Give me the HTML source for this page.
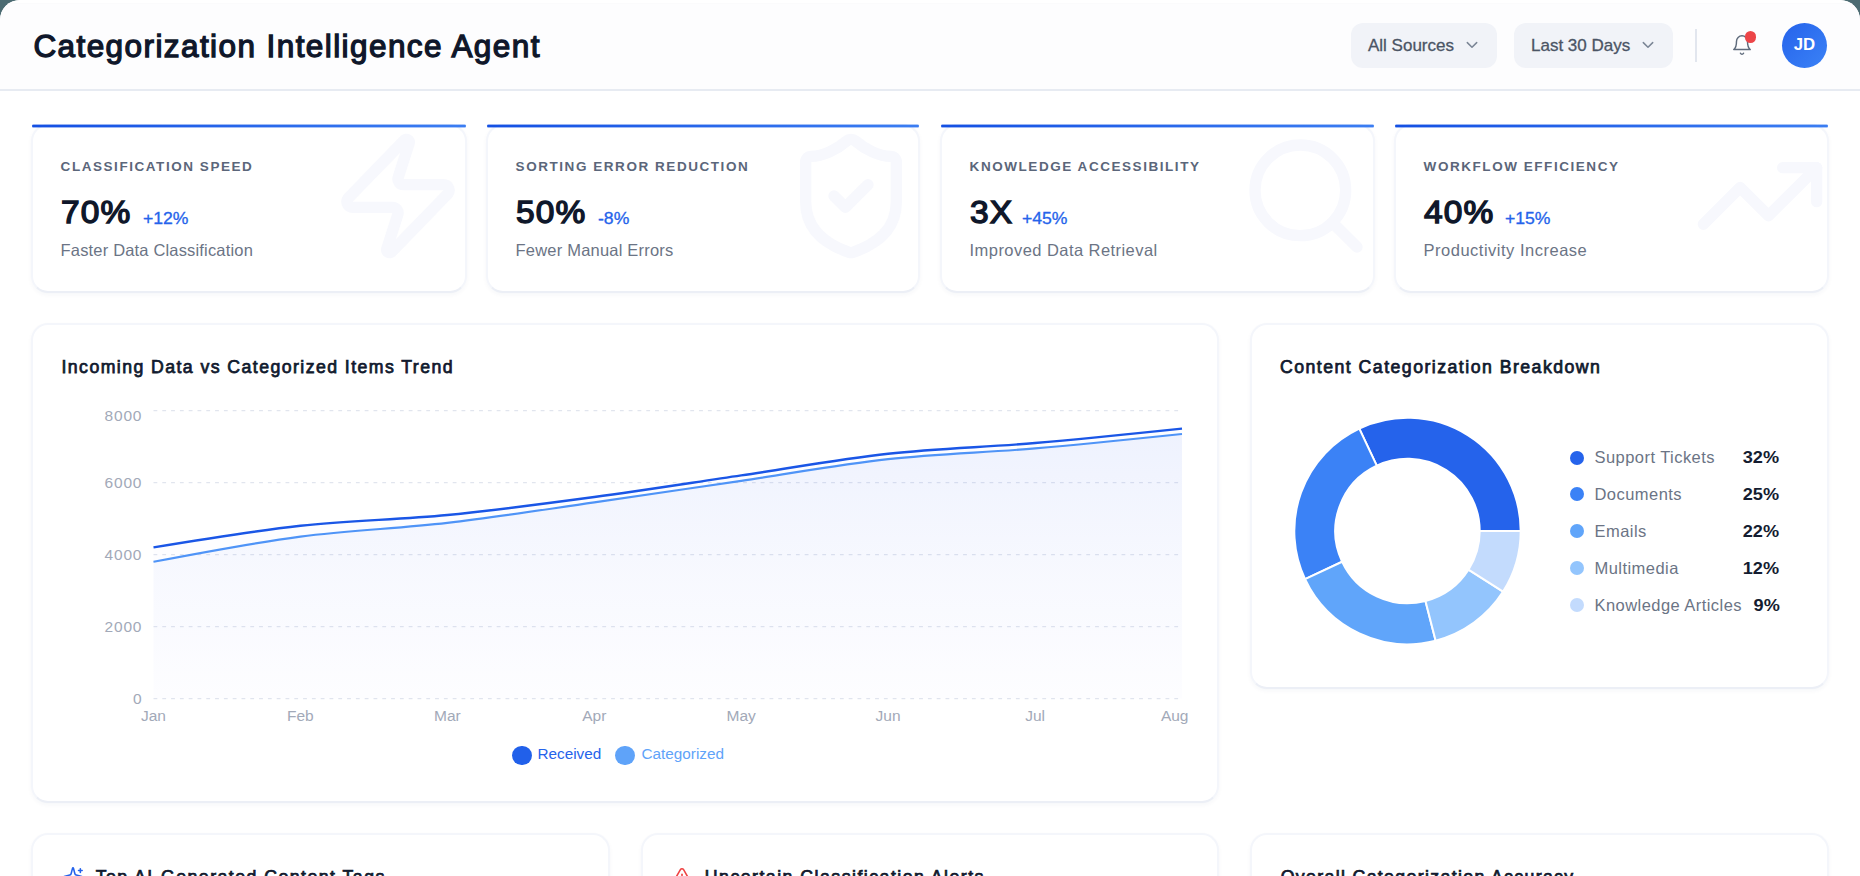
<!DOCTYPE html>
<html>
<head>
<meta charset="utf-8">
<title>Categorization Intelligence Agent</title>
<style>
*{box-sizing:border-box;margin:0;padding:0}
html,body{width:1860px;height:876px;overflow:hidden;background:#4c6b72;font-family:"Liberation Sans",sans-serif;}
#app{position:absolute;left:0;top:0;width:1860px;height:900px;background:#fff;border-radius:20px 20px 0 0;overflow:hidden;}
.abs{position:absolute;white-space:nowrap;line-height:1}
#hdr{position:absolute;left:0;top:0;width:1860px;height:91px;background:linear-gradient(#fff 0,#fff 3px,#fbfbfc 3px,#fbfbfc 4px,#fdfdfe 4px,#fdfdfe 100%);border-bottom:2px solid #e7ebf2;}
#title{left:33.4px;top:31.1px;font-size:31.5px;font-weight:400;color:#0f172a;-webkit-text-stroke:1.3px #0f172a;letter-spacing:1.42px}
.pill{position:absolute;top:23px;height:45px;border-radius:12px;background:#f1f3f8;}
.pill span{position:absolute;top:13.7px;font-size:17px;color:#4b5565;-webkit-text-stroke:0.3px #4b5565;white-space:nowrap;line-height:1}
.pill svg{position:absolute;top:17px}
.card{position:absolute;background:#fff;border:2px solid #f4f6fb;border-bottom-color:#eceff6;border-radius:17px;box-shadow:0 2px 4px rgba(30,50,110,0.04);}
.kpi{top:124px;width:435px;height:168.5px;overflow:visible}
.kpi .bar{position:absolute;left:-1px;right:-1px;top:-1px;height:2px;border-radius:1px;background:linear-gradient(90deg,#1450e3,#3b7df2)}
.kpi .bar:after{content:"";position:absolute;left:0;right:0;top:-1px;height:4px;border-radius:1.5px;background:linear-gradient(90deg,#1450e3,#3b7df2);opacity:.42}
.kpi .lab{left:27.6px;top:33.6px;font-size:13.5px;font-weight:700;color:#5b667a;letter-spacing:1.55px}
.kpi .val{left:28.2px;top:71.2px;font-size:30.6px;font-weight:400;color:#0f172a;-webkit-text-stroke:1.35px #0f172a;letter-spacing:1px;transform-origin:0 50%;transform:scaleX(1.095)}
.kpi .chg{top:84.8px;font-size:16px;color:#2563eb;-webkit-text-stroke:0.3px #2563eb;transform-origin:0 50%;transform:scaleX(1.1)}
.kpi .sub{left:27.6px;top:116.2px;font-size:16.5px;color:#6b7485;letter-spacing:0.24px}
.kpi svg.bg{position:absolute}
.h3{font-size:17.7px;font-weight:400;color:#111a2e;-webkit-text-stroke:0.75px #111a2e}
.tick{font-size:15.5px;color:#a2a9b8}
.ytick{letter-spacing:0.8px;margin-right:-0.8px}
.leg{font-size:16.5px;color:#6b7485;letter-spacing:0.45px}
.legv{font-size:16.5px;font-weight:700;color:#141c30;transform-origin:100% 50%;transform:scaleX(1.1)}
</style>
</head>
<body>
<div id="app">
  <div id="hdr">
    <div class="abs" id="title">Categorization Intelligence Agent</div>
    <div class="pill" style="left:1351px;width:146px"><span style="left:17px">All Sources</span>
      <svg style="left:115px" width="12" height="10" viewBox="0 0 12 10"><path d="M1.3 2.6 L6 7.3 L10.7 2.6" fill="none" stroke="#7b8696" stroke-width="1.5" stroke-linecap="round" stroke-linejoin="round"/></svg></div>
    <div class="pill" style="left:1514px;width:159px"><span style="left:17px">Last 30 Days</span>
      <svg style="left:128px" width="12" height="10" viewBox="0 0 12 10"><path d="M1.3 2.6 L6 7.3 L10.7 2.6" fill="none" stroke="#7b8696" stroke-width="1.5" stroke-linecap="round" stroke-linejoin="round"/></svg></div>
    <div style="position:absolute;left:1695px;top:29px;width:1.5px;height:33px;background:#e2e6ee"></div>
    <svg style="position:absolute;left:1731.2px;top:33.8px" width="22" height="22" viewBox="0 0 24 24"><path d="M6 8a6 6 0 0 1 12 0c0 7 3 9 3 9H3s3-2 3-9M10.3 21a1.94 1.94 0 0 0 3.4 0" fill="none" stroke="#5f6b7c" stroke-width="1.6" stroke-linecap="round" stroke-linejoin="round"/></svg>
    <div style="position:absolute;left:1745px;top:31.2px;width:11.4px;height:11.4px;border-radius:50%;background:#ec4548"></div>
    <div style="position:absolute;left:1782px;top:22.6px;width:45px;height:45px;border-radius:50%;background:linear-gradient(135deg,#2563eb,#3b82f6)"></div>
    <div class="abs" style="left:1782px;top:37.3px;width:45px;text-align:center;font-size:16.8px;font-weight:700;color:#fff">JD</div>
  </div>
  <div class="card kpi" style="left:31px;width:436px">
    <div class="bar"></div>
    <svg class="bg" style="right:-1px;top:1.7px" width="136" height="136" viewBox="0 0 24 24" fill="none" stroke="#f7f8fd" stroke-width="2" stroke-linecap="round" stroke-linejoin="round"><path d="M4 14a1 1 0 0 1-.78-1.63l9.9-10.2a.5.5 0 0 1 .86.46l-1.92 6.02A1 1 0 0 0 13 10h7a1 1 0 0 1 .78 1.63l-9.9 10.2a.5.5 0 0 1-.86-.46l1.92-6.02A1 1 0 0 0 11 14z"/></svg>
    <div class="abs lab">CLASSIFICATION SPEED</div>
    <div class="abs val">70%</div>
    <div class="abs chg" style="left:109.6px">+12%</div>
    <div class="abs sub" style="letter-spacing:0.17px">Faster Data Classification</div>
  </div>
  <div class="card kpi" style="left:486px;width:434px">
    <div class="bar"></div>
    <svg class="bg" style="right:-1px;top:1.7px" width="136" height="136" viewBox="0 0 24 24" fill="none" stroke="#f7f8fd" stroke-width="2" stroke-linecap="round" stroke-linejoin="round"><path d="M20 13c0 5-3.5 7.500-7.660 8.950a1 1 0 0 1-.670-.010C7.500 20.500 4 18 4 13V6a1 1 0 0 1 1-1c2 0 4.500-1.200 6.240-2.720a1.170 1.170 0 0 1 1.520 0C14.510 3.810 17 5 19 5a1 1 0 0 1 1 1z"/><path d="m9 12 2 2 4-4"/></svg>
    <div class="abs lab">SORTING ERROR REDUCTION</div>
    <div class="abs val">50%</div>
    <div class="abs chg" style="left:109.6px">-8%</div>
    <div class="abs sub" style="letter-spacing:0.2px">Fewer Manual Errors</div>
  </div>
  <div class="card kpi" style="left:940px">
    <div class="bar"></div>
    <svg class="bg" style="right:-1px;top:1.7px" width="136" height="136" viewBox="0 0 24 24" fill="none" stroke="#f7f8fd" stroke-width="2" stroke-linecap="round" stroke-linejoin="round"><circle cx="11" cy="11" r="8"/><path d="m21 21-4.300-4.300"/></svg>
    <div class="abs lab">KNOWLEDGE ACCESSIBILITY</div>
    <div class="abs val">3X</div>
    <div class="abs chg" style="left:80.2px">+45%</div>
    <div class="abs sub" style="letter-spacing:0.44px">Improved Data Retrieval</div>
  </div>
  <div class="card kpi" style="left:1394px">
    <div class="bar"></div>
    <svg class="bg" style="right:-1px;top:1.7px" width="136" height="136" viewBox="0 0 24 24" fill="none" stroke="#f7f8fd" stroke-width="2" stroke-linecap="round" stroke-linejoin="round"><path d="M22 7 13.500 15.500 8.500 10.500 2 17"/><path d="M16 7h6v6"/></svg>
    <div class="abs lab">WORKFLOW EFFICIENCY</div>
    <div class="abs val">40%</div>
    <div class="abs chg" style="left:109.2px">+15%</div>
    <div class="abs sub" style="letter-spacing:0.5px">Productivity Increase</div>
  </div>
  <div class="card" style="left:31px;top:323px;width:1188px;height:480px"></div>
  <div class="abs h3" style="left:61.5px;top:358.6px;letter-spacing:1.43px">Incoming Data vs Categorized Items Trend</div>
  <svg style="position:absolute;left:0;top:0" width="1860" height="876" viewBox="0 0 1860 876">
    <defs>
      <linearGradient id="gc" x1="0" y1="0" x2="0" y2="1"><stop offset="0" stop-color="#3b6cf0" stop-opacity="0.075"/><stop offset="0.55" stop-color="#3b6cf0" stop-opacity="0.028"/><stop offset="1" stop-color="#3b6cf0" stop-opacity="0.0"/></linearGradient>
    </defs>
    <g stroke="#e1e5ee" stroke-width="1.35" stroke-dasharray="3.8 5" fill="none"><line x1="153.5" x2="1178.5" y1="698.6" y2="698.6"/><line x1="153.5" x2="1178.5" y1="626.6" y2="626.6"/><line x1="153.5" x2="1178.5" y1="554.6" y2="554.6"/><line x1="153.5" x2="1178.5" y1="482.6" y2="482.6"/><line x1="153.5" x2="1178.5" y1="410.6" y2="410.6"/></g>
    <path d="M153.50,547.40C202.48,539.30,251.45,531.20,300.43,525.80C349.40,520.40,398.38,519.80,447.36,515.00C496.33,510.20,545.31,503.60,594.29,497.00C643.26,490.40,692.24,482.60,741.21,475.40C790.19,468.20,839.17,459.20,888.14,453.80C937.12,448.40,986.10,447.20,1035.07,443.00C1084.05,438.80,1133.02,433.70,1182.00,428.60L1182.0,698.6L153.5,698.6Z" fill="#3b6cf0" fill-opacity="0.012"/>
    <path d="M153.50,561.80C202.48,552.44,251.45,543.08,300.43,536.60C349.40,530.12,398.38,528.62,447.36,522.92C496.33,517.22,545.31,509.42,594.29,502.40C643.26,495.38,692.24,488.00,741.21,480.80C790.19,473.60,839.17,464.60,888.14,459.20C937.12,453.80,986.10,452.60,1035.07,448.40C1084.05,444.20,1133.02,439.10,1182.00,434.00L1182.0,698.6L153.5,698.6Z" fill="url(#gc)"/>
    <path d="M153.50,561.80C202.48,552.44,251.45,543.08,300.43,536.60C349.40,530.12,398.38,528.62,447.36,522.92C496.33,517.22,545.31,509.42,594.29,502.40C643.26,495.38,692.24,488.00,741.21,480.80C790.19,473.60,839.17,464.60,888.14,459.20C937.12,453.80,986.10,452.60,1035.07,448.40C1084.05,444.20,1133.02,439.10,1182.00,434.00" fill="none" stroke="#4f94f7" stroke-width="2.2"/>
    <path d="M153.50,547.40C202.48,539.30,251.45,531.20,300.43,525.80C349.40,520.40,398.38,519.80,447.36,515.00C496.33,510.20,545.31,503.60,594.29,497.00C643.26,490.40,692.24,482.60,741.21,475.40C790.19,468.20,839.17,459.20,888.14,453.80C937.12,448.40,986.10,447.20,1035.07,443.00C1084.05,438.80,1133.02,433.70,1182.00,428.60" fill="none" stroke="#1a56e6" stroke-width="2.4"/>
  </svg>
  <div class="abs tick ytick" style="right:1718.5px;top:690.9px">0</div><div class="abs tick ytick" style="right:1718.5px;top:618.9px">2000</div><div class="abs tick ytick" style="right:1718.5px;top:546.9px">4000</div><div class="abs tick ytick" style="right:1718.5px;top:474.9px">6000</div><div class="abs tick ytick" style="right:1718.5px;top:407.5px">8000</div>
  <div class="abs tick" style="left:123.5px;width:60px;text-align:center;top:708.1px">Jan</div><div class="abs tick" style="left:270.4px;width:60px;text-align:center;top:708.1px">Feb</div><div class="abs tick" style="left:417.4px;width:60px;text-align:center;top:708.1px">Mar</div><div class="abs tick" style="left:564.3px;width:60px;text-align:center;top:708.1px">Apr</div><div class="abs tick" style="left:711.2px;width:60px;text-align:center;top:708.1px">May</div><div class="abs tick" style="left:858.1px;width:60px;text-align:center;top:708.1px">Jun</div><div class="abs tick" style="left:1005.1px;width:60px;text-align:center;top:708.1px">Jul</div><div class="abs tick" style="left:1128.5px;width:60px;text-align:right;top:708.1px">Aug</div>
  <div style="position:absolute;left:512.1px;top:745.9px;width:19.6px;height:19.6px;border-radius:50%;background:#2160ea"></div>
  <div class="abs" style="left:537.5px;top:745.5px;font-size:15.3px;color:#2563eb">Received</div>
  <div style="position:absolute;left:615.4px;top:745.9px;width:19.6px;height:19.6px;border-radius:50%;background:#5fa3f9"></div>
  <div class="abs" style="left:641.5px;top:745.5px;font-size:15.3px;color:#5fa3f9">Categorized</div>
  <div class="card" style="left:1250px;top:323px;width:579px;height:365.5px"></div>
  <div class="abs h3" style="left:1280px;top:358.6px;letter-spacing:1.47px">Content Categorization Breakdown</div>
  <svg style="position:absolute;left:0;top:0" width="1860" height="876" viewBox="0 0 1860 876"><g stroke="#fff" stroke-width="2" stroke-linejoin="round"><path d="M1520.70,531.00A113.2,113.2 0 0 0 1359.30,428.57L1376.76,465.67A72.2,72.2 0 0 1 1479.70,531.00Z" fill="#2563eb"/><path d="M1359.30,428.57A113.2,113.2 0 0 0 1305.07,579.20L1342.17,561.74A72.2,72.2 0 0 1 1376.76,465.67Z" fill="#3b82f6"/><path d="M1305.07,579.20A113.2,113.2 0 0 0 1435.65,640.64L1425.46,600.93A72.2,72.2 0 0 1 1342.17,561.74Z" fill="#60a5fa"/><path d="M1435.65,640.64A113.2,113.2 0 0 0 1503.08,591.66L1468.46,569.69A72.2,72.2 0 0 1 1425.46,600.93Z" fill="#93c5fd"/><path d="M1503.08,591.66A113.2,113.2 0 0 0 1520.70,531.00L1479.70,531.00A72.2,72.2 0 0 1 1468.46,569.69Z" fill="#c3dbfd"/></g></svg>
  <div style="position:absolute;left:1569.8px;top:450.5px;width:14px;height:14px;border-radius:50%;background:#2563eb"></div><div class="abs leg" style="left:1594.5px;top:448.9px">Support Tickets</div><div class="abs legv" style="right:80.5px;top:448.9px">32%</div><div style="position:absolute;left:1569.8px;top:487.4px;width:14px;height:14px;border-radius:50%;background:#3b82f6"></div><div class="abs leg" style="left:1594.5px;top:485.8px">Documents</div><div class="abs legv" style="right:80.5px;top:485.8px">25%</div><div style="position:absolute;left:1569.8px;top:524.3px;width:14px;height:14px;border-radius:50%;background:#60a5fa"></div><div class="abs leg" style="left:1594.5px;top:522.7px">Emails</div><div class="abs legv" style="right:80.5px;top:522.7px">22%</div><div style="position:absolute;left:1569.8px;top:561.2px;width:14px;height:14px;border-radius:50%;background:#93c5fd"></div><div class="abs leg" style="left:1594.5px;top:559.6px">Multimedia</div><div class="abs legv" style="right:80.5px;top:559.6px">12%</div><div style="position:absolute;left:1569.8px;top:598.1px;width:14px;height:14px;border-radius:50%;background:#c3dbfd"></div><div class="abs leg" style="left:1594.5px;top:596.5px">Knowledge Articles</div><div class="abs legv" style="right:80.5px;top:596.5px">9%</div>
  <div class="card" style="left:31px;top:833px;width:578.5px;height:200px"></div>
  <div class="card" style="left:640.6px;top:833px;width:578.4px;height:200px"></div>
  <div class="card" style="left:1250px;top:833px;width:579px;height:200px"></div>
  <svg style="position:absolute;left:61.9px;top:865.9px" width="22" height="22" viewBox="0 0 24 24" fill="none" stroke="#2563eb" stroke-width="1.7" stroke-linecap="round" stroke-linejoin="round"><path d="M9.937 15.500A2 2 0 0 0 8.500 14.063l-6.135-1.582a.5.5 0 0 1 0-.962L8.500 9.936A2 2 0 0 0 9.937 8.500l1.582-6.135a.5.5 0 0 1 .963 0L14.063 8.500A2 2 0 0 0 15.500 9.937l6.135 1.581a.5.5 0 0 1 0 .964L15.500 14.063a2 2 0 0 0-1.437 1.437l-1.582 6.135a.5.5 0 0 1-.963 0z"/><path d="M20 3v4"/><path d="M22 5h-4"/></svg>
  <div class="abs h3" style="left:95.7px;top:869.4px;letter-spacing:1.47px">Top AI-Generated Content Tags</div>
  <svg style="position:absolute;left:671px;top:866px" width="22" height="22" viewBox="0 0 24 24" fill="none" stroke="#ef4444" stroke-width="1.7" stroke-linecap="round" stroke-linejoin="round"><path d="m21.730 18-8-14a2 2 0 0 0-3.480 0l-8 14A2 2 0 0 0 4 21h16a2 2 0 0 0 1.730-3"/><path d="M12 9v4"/><path d="M12 17h.01"/></svg>
  <div class="abs h3" style="left:704.8px;top:869.4px;letter-spacing:1.49px">Uncertain Classification Alerts</div>
  <div class="abs h3" style="left:1280.7px;top:869.4px;letter-spacing:1.36px">Overall Categorization Accuracy</div>

</div>
</body>
</html>
